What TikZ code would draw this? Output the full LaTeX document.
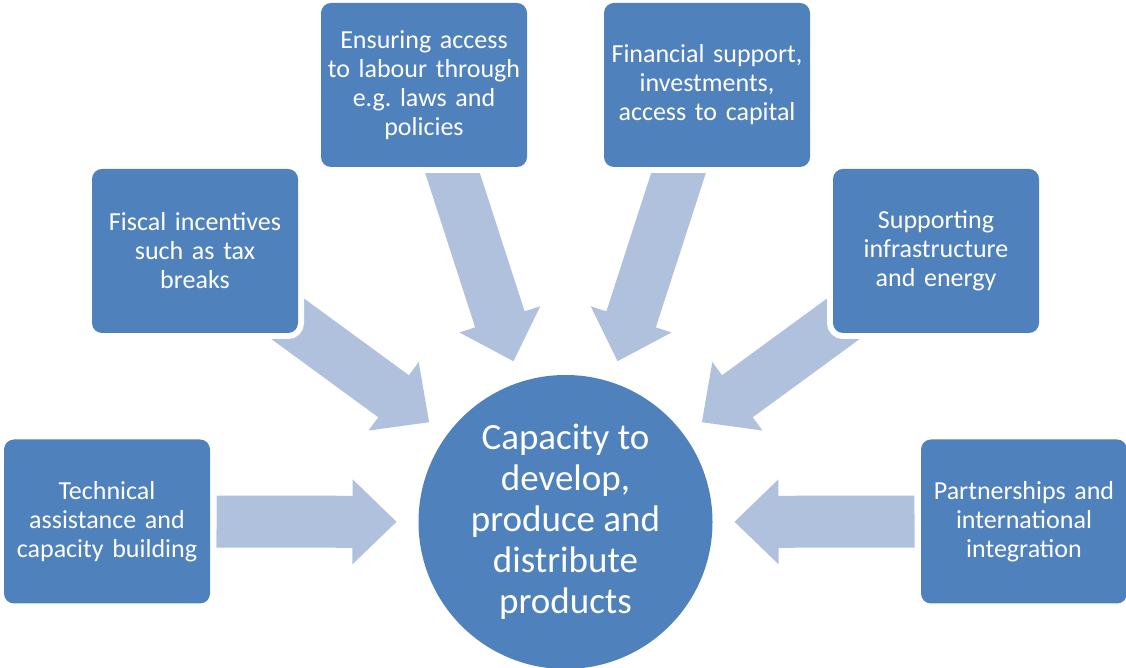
\documentclass[tikz,border=0pt]{standalone}
\usepackage{fontspec}
\setmainfont{Carlito}
\usetikzlibrary{calc}

\definecolor{boxBlue}{RGB}{79,129,189}
\definecolor{arrowBlue}{RGB}{176,193,222}

\begin{document}
\begin{tikzpicture}
[x=1pt,y=1pt,%
  boxDecorate/.style={rectangle,rounded corners=10pt,fill=boxBlue,text=white,
    minimum width=206pt,minimum height=164pt,text width=202pt,align=center,
    inner sep=0pt,font=\fontsize{26}{29}\selectfont,
    preaction={draw=white,line width=12pt}},%
  hubDecorate/.style={circle,fill=boxBlue,text=white,minimum size=294pt,
    inner sep=0pt,align=center,font=\fontsize{37}{41}\selectfont},%
  arrowDecorate/.style={fill=arrowBlue}]
\useasboundingbox (0,0) rectangle (1126,668);
%% centre and box positions
\node[hubDecorate] (hub) at (565.5,146)
  {Capacity to\\develop,\\produce and\\distribute\\products};
\coordinate (techPos) at (107,146.5);
\coordinate (fiscPos) at (195,417);
\coordinate (labourPos) at (424,583);
\coordinate (financePos) at (707,583);
\coordinate (infraPos) at (936,417);
\coordinate (partnerPos) at (1024,146.5);
%% block arrows pointing to the centre
\foreach \name/\len in {tech/349, fisc/349, labour/385, finance/385,
  infra/349, partner/349}
{
  \coordinate (head) at ($(hub.center)!213pt!(\name Pos)$);
  \coordinate (tail) at ($(hub.center)!\len pt!(\name Pos)$);
  \fill[arrowDecorate] ($(hub.center)!169pt!(\name Pos)$)
    -- ($(head)!42.5pt!90:(hub.center)$) -- ($(head)!26pt!90:(hub.center)$)
    -- ($(tail)!26pt!-90:(\name Pos)$) -- ($(tail)!26pt!90:(\name Pos)$)
    -- ($(head)!26pt!-90:(hub.center)$) -- ($(head)!42.5pt!-90:(hub.center)$)
    -- cycle;
}
%% boxes
\node[boxDecorate] (tech) at (techPos)
  {Technical\\assistance and\\capacity building};
\node[boxDecorate] (fisc) at (fiscPos)
  {Fiscal incentives\\such as tax\\breaks};
\node[boxDecorate] (labour) at (labourPos)
  {Ensuring access\\to labour through\\e.g.\ laws and\\policies};
\node[boxDecorate] (finance) at (financePos)
  {Financial support,\\investments,\\access to capital};
\node[boxDecorate] (infra) at (infraPos)
  {Supporting\\infrastructure\\and energy};
\node[boxDecorate] (partner) at (partnerPos)
  {Partnerships and\\international\\integration};
\end{tikzpicture}
\end{document}
